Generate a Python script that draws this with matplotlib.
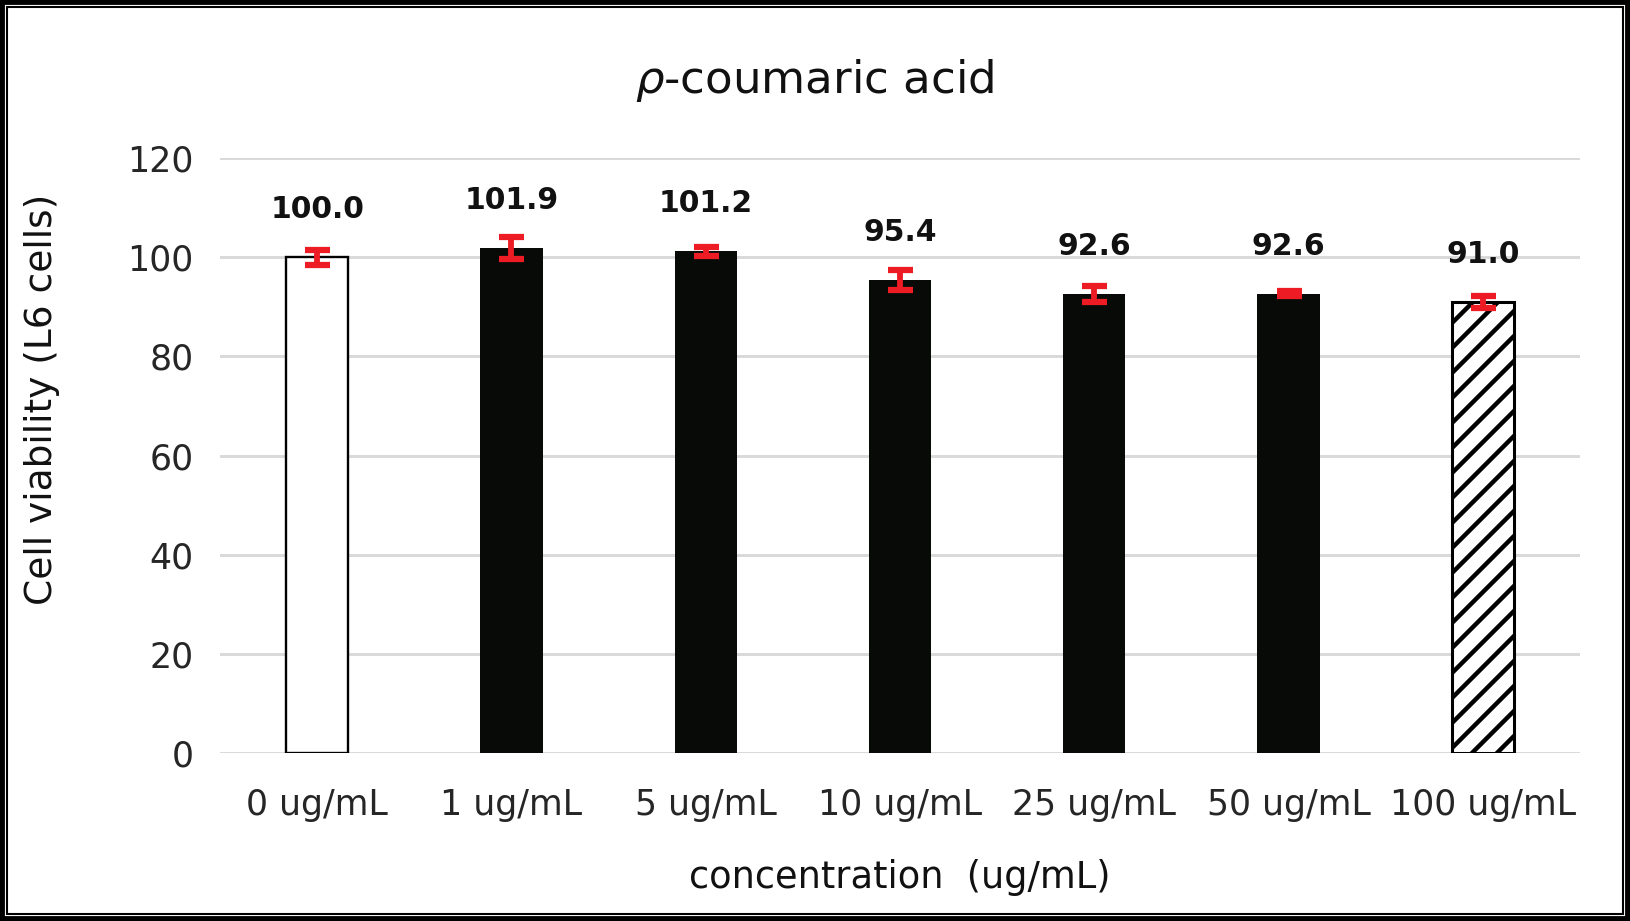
import matplotlib
matplotlib.use("Agg")
from matplotlib import pyplot as plt
from matplotlib.patches import Rectangle
from matplotlib.backend_bases import GraphicsContextBase

# data
concs = ["0 ug/mL", "1 ug/mL", "5 ug/mL", "10 ug/mL", "25 ug/mL", "50 ug/mL", "100 ug/mL"]
viability = [100.0, 101.9, 101.2, 95.4, 92.6, 92.6, 91.0]
errs = [1.5, 2.2, 0.9, 2.0, 1.6, 0.5, 1.2]
yticks = [0, 20, 40, 60, 80, 100, 120]

DPI = 100
plt.rcParams['font.family'] = ['DejaVu Sans']
plt.rcParams['hatch.linewidth'] = 3.2

# slightly denser hatch than the default '/' (no rcParam for this)
_hatch_path = GraphicsContextBase.get_hatch_path
GraphicsContextBase.get_hatch_path = lambda self, density=6.0: _hatch_path(self, 8.0)

fig = plt.figure(figsize=(1630/DPI, 921/DPI), dpi=DPI)
ax = fig.add_axes([220/1630, 1-753/921, 1360/1630, 595/921])

x = list(range(len(concs)))
bars = ax.bar(x, viability, width=0.32, color="#080a08", zorder=3)
bars[0].set_facecolor("white")
bars[0].set_edgecolor("black")
bars[0].set_linewidth(1.7)
bars[-1].set_facecolor("white")
bars[-1].set_edgecolor("black")
bars[-1].set_hatch("/")
bars[-1].set_linewidth(2.2)

ax.errorbar(x, viability, yerr=errs, fmt="none", ecolor="#ed1c24",
            elinewidth=4.2, capsize=9, capthick=4.5, zorder=4)

for xi, v in zip(x, viability):
    ax.annotate("%.1f" % v, (xi, v), xytext=(0, 34), textcoords="offset points",
                ha="center", va="center", fontsize=21.5, fontweight="bold", color="#111111")

ax.set_xlim(-0.5, len(concs)-0.5)
ax.set_ylim(0, 120)
ax.set_yticks(yticks)
ax.set_xticks(x)
ax.set_xticklabels(concs)
ax.tick_params(axis="both", length=0, labelsize=25, colors="#262626")
ax.tick_params(axis="x", pad=25)
ax.tick_params(axis="y", pad=19)
ax.grid(axis="y", color="#d9d9d9", lw=2.1, zorder=0)
ax.set_axisbelow(True)
for s in ax.spines.values():
    s.set_visible(False)

ax.set_ylabel("Cell viability (L6 cells)", fontsize=27, color="#111111")
ax.yaxis.set_label_coords(-0.131, 0.595)
ax.yaxis.label.set_verticalalignment("center")
ax.set_xlabel("concentration  (ug/mL)", fontsize=26.5, color="#111111")
ax.xaxis.set_label_coords(0.5, -0.21)
ax.xaxis.label.set_verticalalignment("center")

fig.text(0.5, 1-81/921, r"$\rho$-coumaric acid", ha="center", va="center", fontsize=32.5, color="#111111")

# double frame around the picture
fig.patches.append(Rectangle((0.0015, 0.0025), 0.997, 0.995, transform=fig.transFigure,
                             fill=False, edgecolor="black", lw=4.2))
fig.patches.append(Rectangle((7/1630, 7/921), 1-14/1630, 1-14/921, transform=fig.transFigure,
                             fill=False, edgecolor="black", lw=1.5))

fig.savefig("out.png", dpi=DPI)
